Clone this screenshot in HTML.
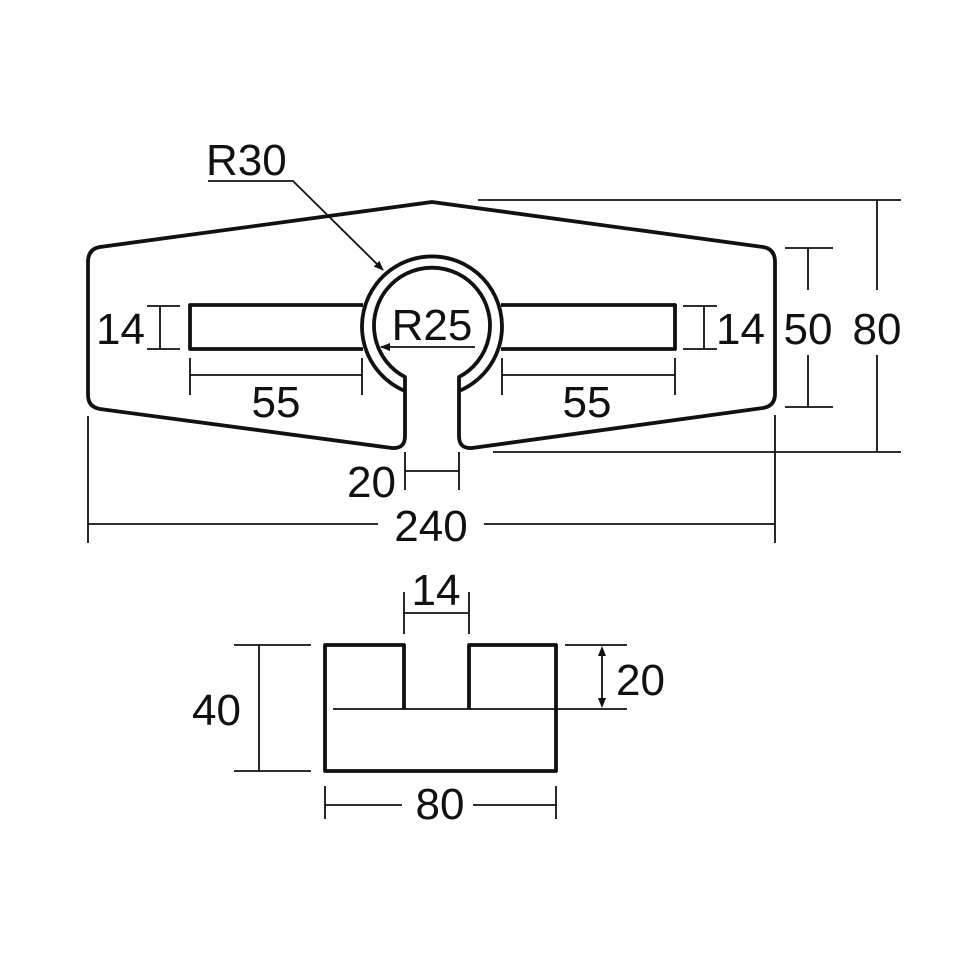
<!DOCTYPE html>
<html><head><meta charset="utf-8"><style>html,body{margin:0;padding:0;background:#fff}svg{display:block}text{font-family:"Liberation Sans",sans-serif;font-size:44px;fill:#111}</style></head>
<body>
<svg width="960" height="960" viewBox="0 0 960 960" xmlns="http://www.w3.org/2000/svg">
<defs><marker id="ar" markerWidth="10" markerHeight="8" refX="9" refY="4" orient="auto" markerUnits="userSpaceOnUse"><path d="M0,0 L10,4 L0,8 z" fill="#111"/></marker></defs>
<g fill="none" stroke="#111" stroke-width="3.8" stroke-linejoin="round">
<path d="M405,391 L405,436 Q405,449 392,448 L100,409 Q88,407 88,395 L88,262 Q88,249 100,247 L432,202 L763,247 Q775,249 775,262 L775,394 Q775,406 763,408 L472,448 Q459,449 459,436 L459,391"/>
<path d="M405,391 A70,70 0 1 1 459,391"/>
<path d="M405,391 L405,377 A58,58 0 1 1 459,377 L459,391"/>
<path d="M363,305 L190,305 L190,349 L363,349"/>
<path d="M501,305 L675,305 L675,349 L501,349"/>
<path d="M404,709 L404,645 L325,645 L325,771 L556,771 L556,645 L469,645 L469,709"/>
</g>
<g fill="none" stroke="#111" stroke-width="1.8">
<path d="M208,181 L293,181 L383,270" marker-end="url(#ar)"/>
<path d="M475,347 L381,347" marker-end="url(#ar)"/>
<path d="M147,306 L180,306 M147,349 L180,349 M160,306 L160,349"/>
<path d="M683,306 L717,306 M683,349 L717,349 M704,306 L704,349"/>
<path d="M190,358 L190,395 M362,358 L362,395 M190,375 L362,375"/>
<path d="M502,358 L502,395 M675,358 L675,395 M502,375 L675,375"/>
<path d="M785,248 L833,248 M785,407 L833,407 M808,248 L808,290 M808,355 L808,407"/>
<path d="M478,200 L901,200 M493,452 L901,452 M877,200 L877,290 M877,355 L877,452"/>
<path d="M405,452 L405,490 M459,452 L459,490 M405,471 L459,471"/>
<path d="M88,416 L88,543 M775,415 L775,543 M88,524 L378,524 M484,524 L775,524"/>
<path d="M234,645 L311,645 M234,771 L311,771 M259,645 L259,771"/>
<path d="M404,592 L404,634 M469,592 L469,634 M404,613 L469,613"/>
<path d="M565,645 L627,645 M333,709 L627,709"/>
<path d="M602,652 L602,702"/>
<path d="M325,786 L325,819 M556,786 L556,819 M325,805 L402,805 M473,805 L556,805"/>
</g>
<path d="M602,646 L598,656 L606,656 Z M602,708 L598,698 L606,698 Z" fill="#111"/>
<text x="206" y="175">R30</text>
<text x="432" y="340" text-anchor="middle">R25</text>
<text x="96" y="344">14</text>
<text x="716" y="344">14</text>
<text x="276" y="417" text-anchor="middle">55</text>
<text x="587" y="417" text-anchor="middle">55</text>
<text x="808" y="344" text-anchor="middle">50</text>
<text x="877" y="344" text-anchor="middle">80</text>
<text x="347" y="497">20</text>
<text x="431" y="541" text-anchor="middle">240</text>
<text x="436" y="605" text-anchor="middle">14</text>
<text x="192" y="725">40</text>
<text x="616" y="695">20</text>
<text x="440" y="819" text-anchor="middle">80</text>
</svg>
</body></html>
